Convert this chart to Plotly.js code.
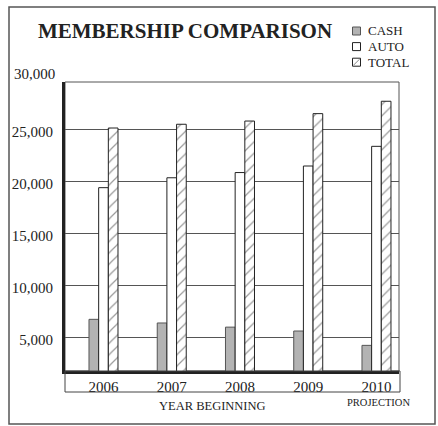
<!DOCTYPE html>
<html>
<head>
<meta charset="utf-8">
<script src="https://cdn.plot.ly/plotly-3.0.1.min.js"></script>
<style>html,body{margin:0;padding:0;background:#fff;}#chart{width:438px;height:426px;}</style>
</head>
<body>
<div id="chart"></div>
<script>
const years = ['2006', '2007', '2008', '2009', '2010'];
const cash  = [6750, 6400, 6000, 5630, 4250];
const auto  = [19400, 20350, 20850, 21480, 23370];
const total = [25130, 25490, 25800, 26510, 27700];
const yTickVals = [5000, 10000, 15000, 20000, 25000];
const yTickText = ['5,000', '10,000', '15,000', '20,000', '25,000'];
const topLabel = '30,000';
const legendNames = ['CASH', 'AUTO', 'TOTAL'];

const serif = 'Liberation Serif, Times New Roman, serif';
const ink = '#222';

const traces = [
  {type: 'bar', name: legendNames[0], x: years, y: cash,
   marker: {color: '#b3b3b3', line: {color: '#555', width: 1}}},
  {type: 'bar', name: legendNames[1], x: years, y: auto,
   marker: {color: '#ffffff', line: {color: ink, width: 1}}},
  {type: 'bar', name: legendNames[2], x: years, y: total,
   marker: {color: '#ffffff', line: {color: ink, width: 1},
            pattern: {shape: '/', fgcolor: '#9a9a9a', bgcolor: '#ffffff', size: 8, solidity: 0.15}}}
];

// plot area in pixels: x 65..399, y 82..371
const L = 65, R = 399, T = 82, B = 371;
const px = v => (v - L) / (R - L);
const py = v => (B - v) / (B - T);

const shapes = [
  {type: 'rect', xref: 'paper', yref: 'paper', x0: 0, x1: 1, y0: 0, y1: 1,
   line: {color: '#555', width: 1}, layer: 'below'},
  {type: 'rect', xref: 'paper', yref: 'paper', x0: 0, x1: px(400), y0: py(392), y1: 0,
   line: {color: '#444', width: 1}},
  {type: 'rect', xref: 'paper', yref: 'paper', x0: px(9), x1: px(435), y0: py(424), y1: py(7),
   line: {color: '#555', width: 1.5}}
];
const annotations = [
  {text: topLabel, xref: 'paper', yref: 'paper', x: px(57), y: py(74),
   xanchor: 'right', yanchor: 'middle', showarrow: false,
   font: {family: serif, size: 15, color: ink}},
  {text: 'YEAR BEGINNING', xref: 'paper', yref: 'paper', x: px(212), y: py(406),
   xanchor: 'center', yanchor: 'middle', showarrow: false,
   font: {family: serif, size: 12.5, color: ink}},
  {text: 'PROJECTION', xref: 'paper', yref: 'paper', x: px(378), y: py(402),
   xanchor: 'center', yanchor: 'middle', showarrow: false,
   font: {family: serif, size: 10.5, color: ink}}
];
// legend (drawn manually for exact spacing)
const legendFill = ['#b3b3b3', '#ffffff', '#ffffff'];
const legendLine = ['#555', ink, ink];
legendNames.forEach((name, i) => {
  const cy = 31 + i * 15.6;
  shapes.push({type: 'rect', xref: 'paper', yref: 'paper',
    x0: px(352.5), x1: px(360.5), y0: py(cy + 4), y1: py(cy - 4),
    fillcolor: legendFill[i], line: {color: legendLine[i], width: 1}});
  if (i === 2) {
    shapes.push({type: 'line', xref: 'paper', yref: 'paper',
      x0: px(353.5), x1: px(359.5), y0: py(cy + 3), y1: py(cy - 3),
      line: {color: '#888', width: 1}});
  }
  annotations.push({text: name, xref: 'paper', yref: 'paper', x: px(366), y: py(cy),
    xanchor: 'left', yanchor: 'middle', showarrow: false,
    font: {family: serif, size: 13, color: ink}});
});

const layout = {
  width: 438, height: 426,
  margin: {l: L, r: 438 - R, t: T, b: 426 - B, autoexpand: false},
  paper_bgcolor: '#fff', plot_bgcolor: '#fff',
  font: {family: serif, color: ink, size: 15},
  barmode: 'group', bargap: 0.575, bargroupgap: 0,
  showlegend: false,
  title: {text: '<b>MEMBERSHIP COMPARISON</b>', x: 185 / 438, xanchor: 'center',
          y: 1 - 31 / 426, yanchor: 'middle', yref: 'container',
          font: {family: serif, size: 21, color: ink}},
  xaxis: {type: 'category', categoryorder: 'array', categoryarray: years,
          range: [-0.564, 4.33], showgrid: false, zeroline: false,
          showline: true, linecolor: ink, linewidth: 3,
          ticks: '', tickfont: {family: serif, size: 15, color: ink},
          ticklabelstandoff: 0, fixedrange: true},
  yaxis: {range: [1787, 29550], tickvals: yTickVals, ticktext: yTickText,
          showgrid: true, gridcolor: '#555', gridwidth: 1, zeroline: false,
          showline: true, linecolor: ink, linewidth: 3,
          ticks: '', tickfont: {family: serif, size: 15, color: ink},
          ticklabelstandoff: 6, ticklabelshift: 2, fixedrange: true},
  shapes: shapes,
  annotations: annotations
};

Plotly.newPlot('chart', traces, layout, {staticPlot: true, displayModeBar: false});
</script>
</body>
</html>
